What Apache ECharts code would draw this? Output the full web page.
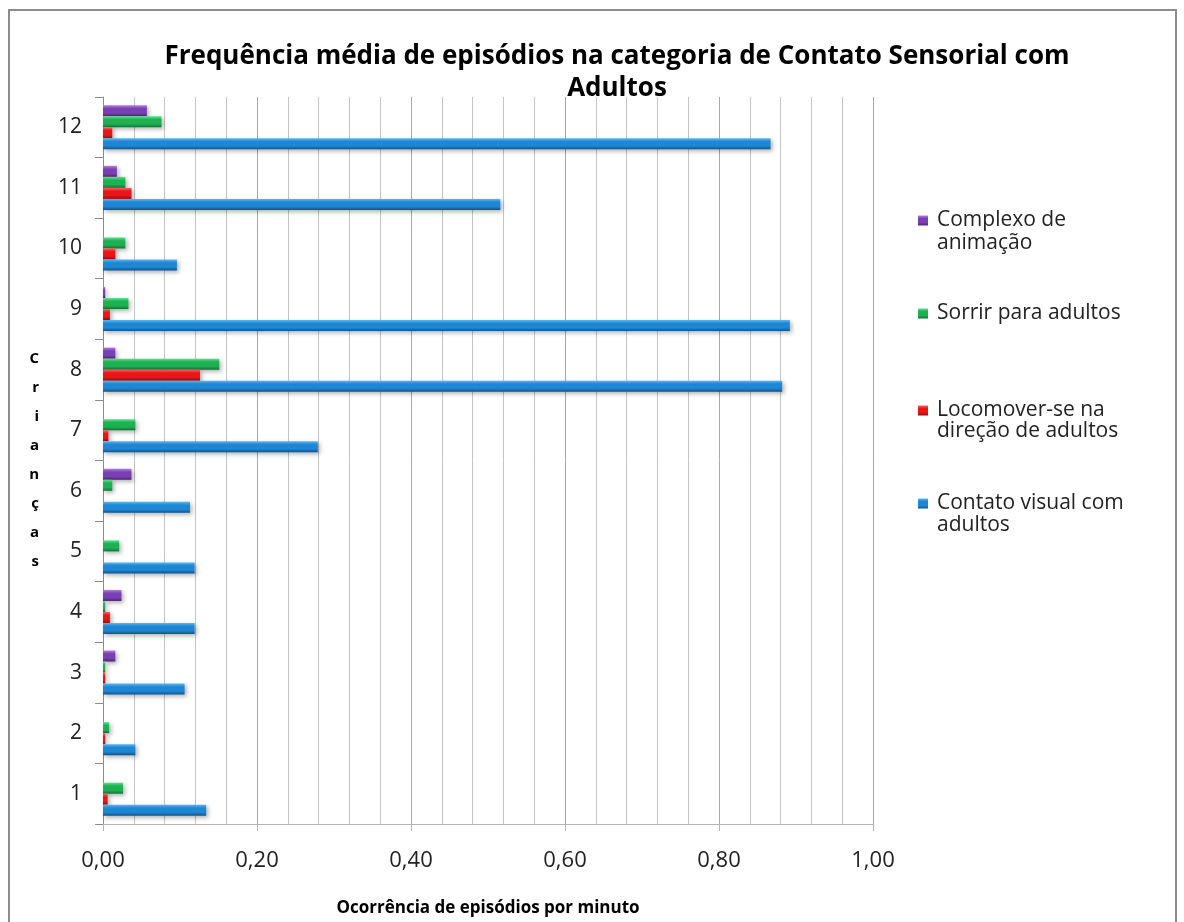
<!DOCTYPE html>
<html>
<head>
<meta charset="utf-8">
<script src="https://cdn.jsdelivr.net/npm/echarts@6/dist/echarts.min.js"></script>
<style>
  html, body { margin: 0; padding: 0; background: #fff; }
  #chart { width: 1184px; height: 922px; }
</style>
</head>
<body>
<div id="chart"></div>
<script>
// crianças 1..12, de baixo para cima
const categories = ['1', '2', '3', '4', '5', '6', '7', '8', '9', '10', '11', '12']
const contatoVisual = [0.134, 0.042, 0.106, 0.119, 0.119, 0.113, 0.279, 0.882, 0.892, 0.096, 0.516, 0.867]
const locomover = [0.006, 0.003, 0.003, 0.009, 0, 0, 0.007, 0.126, 0.009, 0.016, 0.037, 0.012]
const sorrir = [0.026, 0.008, 0.003, 0.003, 0.021, 0.012, 0.042, 0.151, 0.033, 0.029, 0.029, 0.076]
const complexo = [0, 0, 0.016, 0.024, 0, 0.037, 0, 0.016, 0.003, 0, 0.018, 0.057]

const FONT = '"Open Sans", sans-serif'

const bevel = (light, mid, dark) => new echarts.graphic.LinearGradient(0, 0, 0, 1, [
  { offset: 0, color: light },
  { offset: 0.3, color: mid },
  { offset: 0.7, color: mid },
  { offset: 1, color: dark }
])

const makeSeries = (name, data, light, mid, dark) => ({
  name,
  type: 'bar',
  data,
  barWidth: 11,
  barGap: '0%',
  itemStyle: {
    color: bevel(light, mid, dark),
    borderWidth: 0,
    shadowColor: 'rgba(0,0,0,0.3)',
    shadowBlur: 4,
    shadowOffsetX: 2,
    shadowOffsetY: 2
  }
})

const legendItem = (name, label, top) => ({
  data: [name],
  left: 913,
  top,
  orient: 'vertical',
  icon: 'rect',
  itemWidth: 10,
  itemHeight: 10,
  itemGap: 0,
  formatter: () => label,
  textStyle: { fontFamily: FONT, fontSize: 21, color: '#222', padding: [0, 0, 0, 4] }
})

const secondLine = (text, y) => ({
  type: 'text',
  left: 937,
  top: y,
  style: { text, fontFamily: FONT, fontSize: 21, fill: '#222' }
})

const chart = echarts.init(document.getElementById('chart'))

chart.setOption({
  animation: false,
  title: {
    text: 'Frequência média de episódios na categoria de Contato Sensorial com\nAdultos',
    left: 612,
    top: 36,
    textAlign: 'center',
    textStyle: { fontFamily: FONT, fontSize: 26, fontWeight: 'bold', color: '#000', lineHeight: 32 }
  },
  legend: [
    legendItem('Complexo de animação', 'Complexo de', 205),
    legendItem('Sorrir para adultos', 'Sorrir para adultos', 298),
    legendItem('Locomover-se na direção de adultos', 'Locomover-se na', 395),
    legendItem('Contato visual com adultos', 'Contato visual com', 488)
  ],
  graphic: [
    {
      type: 'rect',
      shape: { x: 9, y: 10, width: 1167, height: 940 },
      style: { fill: 'none', stroke: '#8c8c8c', lineWidth: 2 },
      silent: true
    },
    secondLine('animação', 233),
    secondLine('direção de adultos', 421),
    secondLine('adultos', 515)
  ],
  grid: { left: 103, right: 311, top: 97, bottom: 95 },
  xAxis: {
    type: 'value',
    min: 0,
    max: 1,
    interval: 0.2,
    name: 'Ocorrência de episódios por minuto',
    nameLocation: 'middle',
    nameGap: 76,
    nameTextStyle: { fontFamily: FONT, fontSize: 17, fontWeight: 'bold', color: '#000' },
    axisLine: { show: true, lineStyle: { color: '#b4b4b4', width: 1 } },
    axisTick: { show: true, length: 7, lineStyle: { color: '#b4b4b4' } },
    axisLabel: {
      margin: 26,
      fontFamily: FONT,
      fontSize: 22,
      color: '#222',
      formatter: v => v.toFixed(2).replace('.', ',')
    },
    splitLine: { show: true, lineStyle: { color: '#a8a8a8', width: 1 } },
    minorTick: { show: false, splitNumber: 5 },
    minorSplitLine: { show: true, lineStyle: { color: '#c4c4c4', width: 1 } }
  },
  yAxis: {
    type: 'category',
    data: categories,
    name: 'C\nr\ni\na\nn\nç\na\ns',
    nameLocation: 'middle',
    nameRotate: 0,
    nameGap: 64,
    nameTextStyle: {
      fontFamily: FONT, fontSize: 15, fontWeight: 'bold', color: '#000',
      lineHeight: 29, padding: [14, 0, 0, 0]
    },
    axisLine: { show: true, lineStyle: { color: '#8c8c8c', width: 1 } },
    axisTick: { show: true, length: 8, lineStyle: { color: '#8c8c8c' } },
    axisLabel: { margin: 21, fontFamily: FONT, fontSize: 21, color: '#222' },
    splitLine: { show: false }
  },
  // série desenhada primeiro fica no topo de cada grupo
  series: [
    makeSeries('Complexo de animação', complexo, '#b27ee0', '#7a40b2', '#4d2478'),
    makeSeries('Sorrir para adultos', sorrir, '#5fe08e', '#1fb054', '#0e7335'),
    makeSeries('Locomover-se na direção de adultos', locomover, '#ff6060', '#e81616', '#9a0a0a'),
    makeSeries('Contato visual com adultos', contatoVisual, '#5cb8f2', '#1e86d2', '#10538f')
  ]
})
</script>
</body>
</html>
